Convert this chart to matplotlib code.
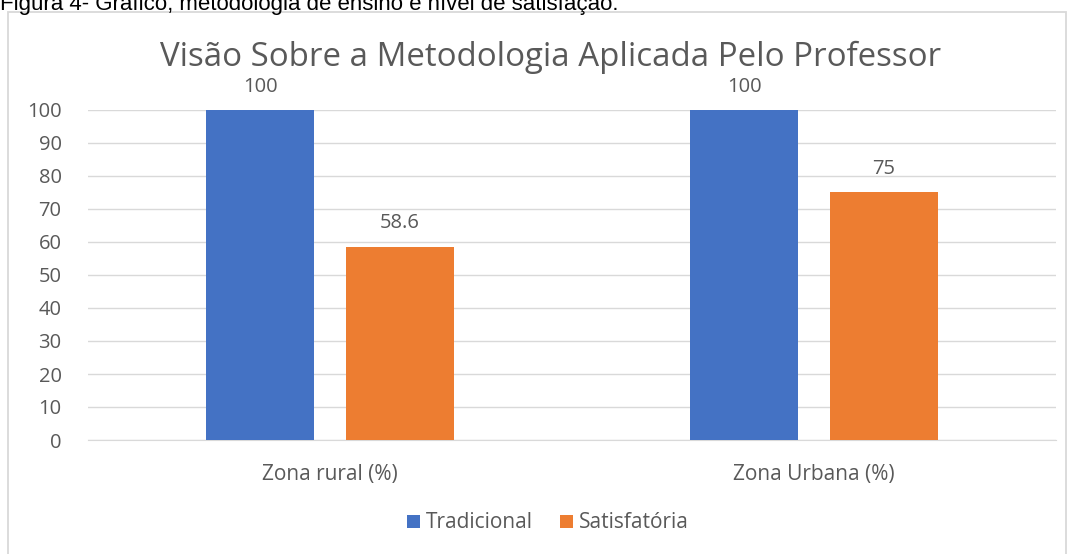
import matplotlib
matplotlib.use("Agg")
import matplotlib.pyplot as plt
from matplotlib.patches import Rectangle
import numpy as np

categories = ["Zona rural (%)", "Zona Urbana (%)"]
series_names = ["Tradicional", "Satisfatória"]
tradicional = [100, 100]
satisfatoria = [58.6, 75]
yticks = [0, 10, 20, 30, 40, 50, 60, 70, 80, 90, 100]
title = "Visão Sobre a Metodologia Aplicada Pelo Professor"
caption = "Figura 4- Gráfico, metodologia de ensino e nível de satisfação."

colors = ["#4472C4", "#ED7D31"]
txt = "#595959"
font = "Open Sans"

W, H = 1070, 554
fig = plt.figure(figsize=(W / 100, H / 100), dpi=100)
fig.patch.set_facecolor("white")

# chart border
fig.patches.append(Rectangle((8 / W, -0.01), (1066 - 8) / W, 1 - 12 / H + 0.01,
                             transform=fig.transFigure, fill=False,
                             edgecolor="#D9D9D9", linewidth=1.3))
# caption (partially clipped at top, as in the source)
fig.text(0 / W, 1 - 10 / H, caption, fontsize=16, family="Liberation Sans",
         color="black", ha="left", va="baseline")

ax = fig.add_axes([88 / W, 1 - 440 / H, (1056 - 88) / W, (440 - 110) / H])
x = np.arange(len(categories))
bw = 0.223
off = 0.1445
for i, (vals, name) in enumerate(zip([tradicional, satisfatoria], series_names)):
    xs = x + (-off if i == 0 else off)
    ax.bar(xs, vals, width=bw, color=colors[i], label=name, zorder=3)
    for xx, v in zip(xs, vals):
        ax.text(xx, v + 4.0, f"{v:g}", ha="center", va="bottom", fontsize=14.5,
                family=font, color=txt, clip_on=False)

ax.set_xlim(-0.5, 1.5)
ax.set_ylim(0, 100)
ax.set_yticks(yticks)
ax.set_yticklabels([str(t) for t in yticks], fontsize=14.5, family=font, color=txt)
ax.set_xticks(x)
ax.set_xticklabels(categories, fontsize=15, family=font, color=txt)
ax.tick_params(axis="both", length=0)
ax.tick_params(axis="y", pad=19)
ax.tick_params(axis="x", pad=17)
for s in ["top", "right", "left"]:
    ax.spines[s].set_visible(False)
ax.spines["bottom"].set_color("#D9D9D9")
ax.grid(axis="y", color="#D9D9D9", linewidth=1, zorder=0)
ax.set_axisbelow(True)

fig.text(551 / W, 1 - 57 / H, title, ha="center", va="center", fontsize=23.8,
         family=font, color=txt)

leg = fig.legend(loc="center", bbox_to_anchor=(548 / W, 1 - 523 / H), ncol=2,
                 frameon=False, prop={"family": font, "size": 15},
                 handlelength=0.6, handleheight=0.6, handletextpad=0.3,
                 columnspacing=1.3)
for t in leg.get_texts():
    t.set_color(txt)

fig.savefig("out.png", dpi=100, facecolor="white")
